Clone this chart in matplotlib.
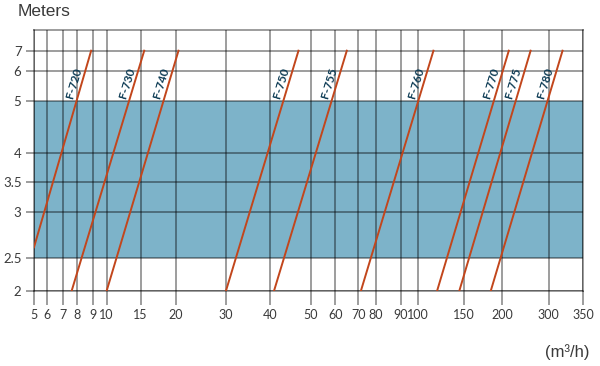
import numpy as np
import matplotlib.pyplot as plt

# pump models and the end points of their curves (flow m3/h, head m)
models = ['F-720', 'F-730', 'F-740', 'F-750', 'F-755', 'F-760', 'F-770', 'F-775', 'F-780']
flow_low = [5, 7.6, 10, 30, 41, 71.5, 121, 145, 185]
flow_high = [8.9, 15.5, 20.5, 47, 65, 117, 214, 261, 320]
head_low = [2.62, 2, 2, 2, 2, 2, 2, 2, 2]
head_high = [7, 7, 7, 7, 7, 7, 7, 7, 7]

flow_ticks = [5, 6, 7, 8, 9, 10, 15, 20, 30, 40, 50, 60, 70, 80, 90, 100, 150, 200, 300, 350]
head_ticks = [2, 2.5, 3, 3.5, 4, 5, 6, 7]

band_low, band_high = 2.5, 5

# the original axis is hand spaced, so map ticks to their drawn spacing
x_spacing = [34, 46.7, 63.3, 77.3, 92.7, 106.7, 140.7, 176, 226, 270, 310.7,
             335.3, 358.3, 376, 400.7, 417.7, 464, 502.3, 548.7, 583.3]
y_values = head_ticks + [8]
y_spacing = [0, 32.4, 78.4, 108.4, 138, 190, 220, 240, 260.7]


def fx(v):
    return np.interp(v, flow_ticks, x_spacing)


def fx_inv(p):
    return np.interp(p, x_spacing, flow_ticks)


def fy(v):
    return np.interp(v, y_values, y_spacing)


def fy_inv(p):
    return np.interp(p, y_spacing, y_values)


tick_col = '#8c8c8c'
line_col = '#c2461c'
label_col = '#0f3d56'
text_col = '#3a3a3a'

fig = plt.figure(figsize=(6, 3.66), dpi=100)
ax = fig.add_axes([34 / 600, (366 - 290.7) / 366, (583.3 - 34) / 600, (290.7 - 30) / 366])
ax.set_xscale('function', functions=(fx, fx_inv))
ax.set_yscale('function', functions=(fy, fy_inv))
ax.set_xlim(5, 350)
ax.set_ylim(2, 8)

ax.axhspan(band_low, band_high, color='#7db3c9', lw=0, zorder=0)

ax.set_xticks(flow_ticks)
ax.set_xticklabels([str(t) for t in flow_ticks])
ax.set_yticks(head_ticks)
ax.set_yticklabels([('%g' % t) for t in head_ticks])
ax.minorticks_off()
ax.grid(True, color='black', alpha=0.45, lw=1.2)
ax.tick_params(axis='x', length=10, width=1.2, color=tick_col, pad=3.5,
               labelsize=9, labelcolor=text_col)
ax.tick_params(axis='y', length=6, width=1.2, color=tick_col, pad=3,
               labelsize=9.5, labelcolor=text_col)
for lbl in ax.get_xticklabels() + ax.get_yticklabels():
    lbl.set_fontfamily('Lato')
for s in ax.spines.values():
    s.set_edgecolor('black')
    s.set_alpha(0.45)
    s.set_linewidth(1.2)

for name, ql, qh, hl, hh in zip(models, flow_low, flow_high, head_low, head_high):
    ax.plot([ql, qh], [hl, hh], color=line_col, lw=1.4, zorder=3)
    p0 = ax.transData.transform((ql, hl))
    p1 = ax.transData.transform((qh, hh))
    angle = np.degrees(np.arctan2(p1[1] - p0[1], p1[0] - p0[0]))
    y5 = ax.transData.transform((ql, band_high))[1]
    t = (y5 - p0[1]) / (p1[1] - p0[1])
    x5 = p0[0] + t * (p1[0] - p0[0])
    qx, _ = ax.transData.inverted().transform((x5, y5))
    ax.annotate(name, xy=(qx, band_high), xytext=(-2.5, 1), textcoords='offset points',
                rotation=angle, rotation_mode='anchor', ha='left', va='baseline',
                fontsize=8.5, fontweight='bold', color=label_col, family='Lato', zorder=4)

fig.text(18 / 600, 1 - 12 / 366, 'Meters', fontsize=12.5, color=text_col,
         family='Liberation Sans', va='center', ha='left')
fig.text(590 / 600, 1 - 352 / 366, '(m\u00b3/h)', fontsize=12, color=text_col,
         family='Liberation Sans', va='center', ha='right')

fig.savefig('out.png', dpi=100)
